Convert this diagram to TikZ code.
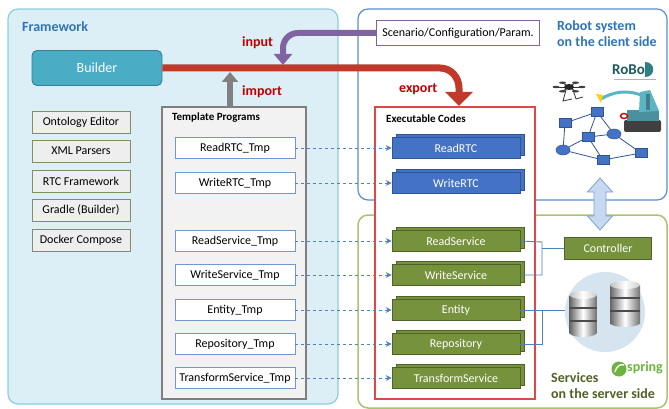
\documentclass[tikz,border=0pt]{standalone}
\usepackage{fontspec}
\setmainfont{Carlito}
\usetikzlibrary{arrows.meta,calc,shapes.geometric}

\definecolor{fwfill}{HTML}{DDEFF6}
\definecolor{fwline}{HTML}{8DCDE0}
\definecolor{builderfill}{HTML}{4BACC6}
\definecolor{builderline}{HTML}{357F94}
\definecolor{toolfill}{HTML}{EEEEEE}
\definecolor{toolline}{HTML}{7F9060}
\definecolor{tmpfill}{HTML}{F2F2F2}
\definecolor{tmpline}{HTML}{7F7F7F}
\definecolor{itemline}{HTML}{6F98D0}
\definecolor{rtcfill}{HTML}{4472C4}
\definecolor{rtcline}{HTML}{2F5597}
\definecolor{svcfill}{HTML}{76923C}
\definecolor{svcline}{HTML}{4F6228}
\definecolor{flowred}{HTML}{C0392B}
\definecolor{labelred}{HTML}{C00000}
\definecolor{flowpurple}{HTML}{8064A2}
\definecolor{titleblue}{HTML}{2E75B6}
\definecolor{robotline}{HTML}{5B8ED0}
\definecolor{svcframe}{HTML}{A9C46C}
\definecolor{execline}{HTML}{E04848}
\definecolor{linkblue}{HTML}{4F81BD}
\definecolor{dbfill}{HTML}{D6E4F0}
\definecolor{springgreen}{HTML}{6DB33F}
\definecolor{svctext}{HTML}{4F6228}
\definecolor{bidifill}{HTML}{C6D9F1}
\definecolor{bidiline}{HTML}{7FA0D0}
\definecolor{armteal}{HTML}{5BB5C5}
\definecolor{logoteal}{HTML}{2E7F86}

\newcommand\fsbox{\fontsize{12}{14}\selectfont}
\newcommand\fstitle{\fontsize{14}{16}\selectfont}
\newcommand\fssmall{\fontsize{11}{13}\selectfont}

\begin{document}
\begin{tikzpicture}[x=1pt,y=-1pt,
  frame/.style={rounded corners=10pt,line width=1.2pt},
  tool/.style={draw=toolline,fill=toolfill,line width=0.9pt,minimum width=98pt,minimum height=22pt,inner sep=0pt,font=\fsbox},
  tmpitem/.style={draw=itemline,fill=white,line width=0.9pt,minimum width=120pt,minimum height=21pt,inner sep=0pt,font=\fsbox},
  rtcbox/.style={draw=rtcline,fill=rtcfill,line width=0.6pt,minimum width=128pt,minimum height=21pt,inner sep=0pt,text=white,font=\fsbox},
  svcbox/.style={draw=svcline,fill=svcfill,line width=0.6pt,minimum width=128pt,minimum height=21pt,inner sep=0pt,text=white,font=\fsbox},
  flowlabel/.style={text=labelred,font=\fstitle\bfseries,inner sep=0pt},
  dashlink/.style={draw=linkblue,dashed,line width=0.8pt,-{Stealth[length=6pt,width=6pt]}},
  link/.style={draw=linkblue,line width=0.9pt},
  netsq/.style={rectangle,draw=rtcline,fill=rtcfill,minimum width=12pt,minimum height=9pt,inner sep=0pt,line width=0.5pt},
  netel/.style={ellipse,draw=rtcline,fill=rtcfill,minimum width=14pt,minimum height=10pt,inner sep=0pt,line width=0.5pt},
  netedge/.style={draw=rtcline,line width=0.8pt},
]
\useasboundingbox (0,0) rectangle (669,409);

% ---------- containers ----------
\draw[frame,fill=fwfill,draw=fwline] (8,9) rectangle (338,404);
\draw[frame,fill=white,draw=robotline] (358,9) rectangle (667,200);
\draw[frame,fill=white,draw=svcframe,line width=1.5pt] (358,215) rectangle (667,408);

\node[anchor=west,text=titleblue,font=\fstitle\bfseries,inner sep=0pt] (fwtitle) at (22,27) {Framework};
\node[anchor=west,text=titleblue,font=\fstitle\bfseries,inner sep=0pt,align=left] (robottitle) at (557,34)
  {Robot system\\on the client side};
\node[anchor=west,text=svctext,font=\fstitle\bfseries,inner sep=0pt,align=left] (svctitle) at (551,386)
  {Services\\on the server side};

% ---------- framework tools ----------
\node[draw=builderline,fill=builderfill,rounded corners=5pt,line width=0.9pt,minimum width=130pt,minimum height=35pt,
      text=white,font=\fontsize{14}{16}\selectfont] (builder) at (97,68) {Builder};

\node[tool] (onto)   at (81,122) {Ontology Editor};
\node[tool] (xml)    at (81,151) {XML Parsers};
\node[tool] (rtcfw)  at (81,181) {RTC Framework};
\node[tool] (gradle) at (81,210) {Gradle (Builder)};
\node[tool] (docker) at (81,240) {Docker Compose};

% ---------- template programs ----------
\node[draw=tmpline,fill=tmpfill,line width=1.6pt,minimum width=144pt,minimum height=292pt,inner sep=0pt] (tmpl) at (234,253) {};
\node[anchor=west,font=\fssmall\bfseries,inner sep=0pt] (tmpltitle) at (172,118) {Template Programs};

% ---------- executable codes ----------
\node[draw=execline,fill=white,line width=1.5pt,minimum width=160pt,minimum height=292pt,inner sep=0pt] (exec) at (455,253) {};
\node[anchor=west,font=\fssmall\bfseries,inner sep=0pt] (exectitle) at (386,119) {Executable Codes};

% template items and the generated code boxes (stacked look)
\foreach \n/\y/\tmp/\code/\kind in {
    rrtc/148/ReadRTC\_Tmp/ReadRTC/rtc,
    wrtc/183/WriteRTC\_Tmp/WriteRTC/rtc,
    rsvc/241/ReadService\_Tmp/ReadService/svc,
    wsvc/275/WriteService\_Tmp/WriteService/svc,
    ent/310/Entity\_Tmp/Entity/svc,
    repo/344/Repository\_Tmp/Repository/svc,
    tsvc/378/TransformService\_Tmp/TransformService/svc}{
  \node[tmpitem] (t\n) at (235,\y) {\tmp};
  \draw[\kind box] (396,\y-13.5) rectangle (524,\y+7.5);
  \node[\kind box] (c\n) at (456,\y) {\code};
  \draw[dashlink] (t\n.east) -- (c\n.west);
}

% ---------- scenario input ----------
\node[draw=flowpurple,fill=white,line width=1.2pt,minimum width=163pt,minimum height=25pt,inner sep=0pt,font=\fsbox] (scen) at (458,33)
  {Scenario/Configuration/Param.};

% ---------- main flows ----------
\coordinate (exportend) at (459,106);
\draw[flowred,line width=7pt,-{Triangle[width=27pt,length=14pt]}]
  (builder.east |- 0,68) -- (440,68) to[out=0,in=90] (exportend |- 0,88) -- (exportend);

\coordinate (inputend) at (283,65);
\draw[flowpurple,line width=6pt,-{Triangle[width=18pt,length=11pt]}]
  (scen.west) -- (298,33) to[out=180,in=90] (inputend |- 0,48) -- (inputend);

\coordinate (importend) at (230,72);
\draw[black!50,line width=6pt,-{Triangle[width=16pt,length=10pt]}]
  (tmpl.north -| importend) -- (importend);

\node[flowlabel,anchor=west] (inputlbl)  at (242,43) {input};
\node[flowlabel,anchor=west] (importlbl) at (242,92) {import};
\node[flowlabel,anchor=west] (exportlbl) at (399,89) {export};

% ---------- controller and database ----------
\node[svcbox,minimum width=87pt,minimum height=22pt] (ctrl) at (608,248) {Controller};
\draw[link] (crsvc.east) -- (542,242) -- (542,275) -- (cwsvc.east);
\draw[link] (542,248) -- (ctrl.west);

\node[circle,fill=dbfill,minimum size=80pt,inner sep=0pt] (db) at (605,312) {};
\draw[link] (cent.east) -- (db.west |- cent.east);
\draw[link] (crepo.east) -- (542,344) -- (542,310);

% disk stacks
\foreach \cx/\top/\w in {583/295/27, 625/285/30}{
  \pgfmathsetmacro{\h}{\w/2}
  \shade[left color=black!60,right color=black!55,middle color=white]
    (\cx-\h,\top) rectangle (\cx+\h,\top+38);
  \shade[left color=black!60,right color=black!55,middle color=white]
    (\cx,\top+38) ellipse ({\h} and 4);
  \foreach \b in {12,25}{
    \fill[black!70] (\cx-\h,\top+\b) rectangle (\cx+\h,\top+\b+2);
  }
  \shade[left color=black!25,right color=black!20,middle color=white]
    (\cx,\top) ellipse ({\h} and 4);
}

% ---------- client side robot network ----------
\coordinate (pa) at (565,123);
\coordinate (pb) at (597,112);
\coordinate (pc) at (588,137);
\coordinate (pd) at (614,134);
\coordinate (pe) at (563,150);
\coordinate (pf) at (603,160);
\coordinate (pg) at (641,153);
\foreach \u/\v in {pa/pb,pa/pe,pb/pc,pb/pd,pd/pg,pc/pd,pe/pc,pc/pf,pe/pf,pf/pg}{
  \draw[netedge] (\u) -- (\v);
}
\node[netsq] (na) at (pa) {};
\node[netsq] (nb) at (pb) {};
\node[netsq] (nc) at (pc) {};
\node[netel] (nd) at (pd) {};
\node[netel] (ne) at (pe) {};
\node[netsq] (nf) at (pf) {};
\node[netsq] (ng) at (pg) {};

% drone
\foreach \a in {0,60,...,300}{
  \draw[black!80,line width=0.9pt] (569,87) -- ($(569,87)+({13*cos(\a)},{5*sin(\a)})$);
  \fill[black!75] ($(569,87)+({13*cos(\a)},{5*sin(\a)})$) ellipse (3.5 and 1.2);
}
\fill[black!85] (569,87) ellipse (5 and 3);
\draw[black!80,line width=0.8pt] (566,90) -- (563,101) -- (572,99);
\draw[black!80,line width=0.8pt] (573,90) -- (576,99) -- (583,97);

% excavator
\fill[black!75,rounded corners=2pt] (624,120) rectangle (661,132);
\fill[armteal!80!black] (627,110) rectangle (659,121);
\fill[armteal] (640,92) -- (650,90) -- (659,111) -- (639,112) -- cycle;
\fill[armteal!70!black] (646,94) rectangle (650,110);
\draw[armteal,line width=3pt] (643,96) .. controls (628,89) and (612,92) .. (601,99);
\fill[yellow!70!orange] (596,94) -- (603,95) -- (601,103) -- cycle;
\draw[red!80!black,line width=1.4pt] (624,116) ellipse (3.5 and 2.5);

% logo
\node[anchor=west,text=logoteal!70!black,font=\fontsize{15}{16}\selectfont\bfseries,inner sep=0pt] (logo) at (612,70) {RoBo};
\fill[logoteal] (645,62) .. controls (656,62) and (656,77) .. (645,77) -- cycle;
\draw[black!30,line width=1pt] (614,80) -- (656,80);

% spring logo
\fill[springgreen] (619,369) circle (7.5);
\draw[white,line width=1.4pt] (615,372) .. controls (617,365) and (621,364) .. (624,365);
\node[anchor=west,text=springgreen,font=\fontsize{14}{15}\selectfont\bfseries,inner sep=0pt] (spring) at (627,368) {spring};

% ---------- client/server exchange ----------
\draw[fill=bidifill,draw=bidiline,line width=0.8pt]
  (600,178) -- (612.5,192) -- (606,192) -- (606,216) -- (612.5,216) -- (600,230)
  -- (587.5,216) -- (594,216) -- (594,192) -- (587.5,192) -- cycle;

\end{tikzpicture}
\end{document}
